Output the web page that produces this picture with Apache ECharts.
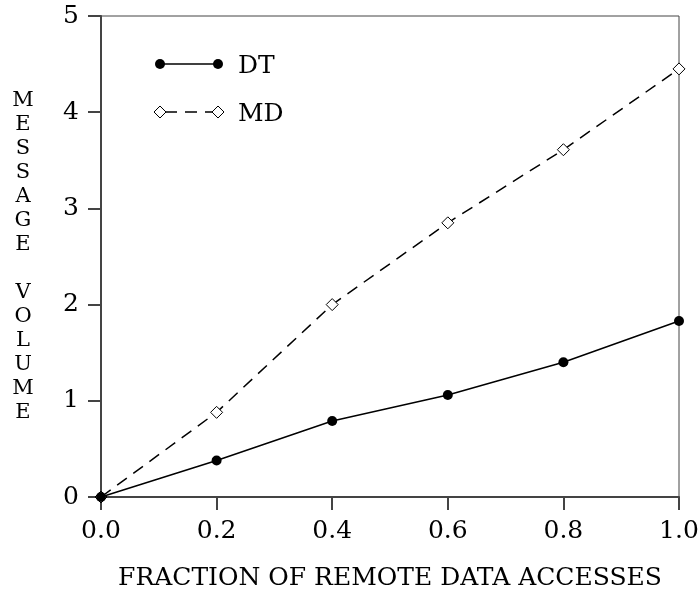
<!DOCTYPE html>
<html><head><meta charset="utf-8">
<script src="https://cdn.jsdelivr.net/npm/echarts@6/dist/echarts.min.js"></script>
<style>html,body{margin:0;padding:0;background:#fff}#c{width:699px;height:594px}</style>
</head><body><div id="c"></div>
<script>
const fractions = [0.0, 0.2, 0.4, 0.6, 0.8, 1.0];
const dtValues = [0, 0.38, 0.79, 1.06, 1.40, 1.83];
const mdValues = [0, 0.88, 2.00, 2.85, 3.61, 4.45];
const xTicks = ['0.0', '0.2', '0.4', '0.6', '0.8', '1.0'];
const yTicks = ['0', '1', '2', '3', '4', '5'];
const xTitle = 'FRACTION OF REMOTE DATA ACCESSES';
const yTitle = 'MESSAGE VOLUME';

const FONT = 'DejaVu Serif';
const chart = echarts.init(document.getElementById('c'), null, {renderer: 'canvas'});
const yName = yTitle.split(' ').map(w => w.split('').join('\n')).join('\n\n');

chart.setOption({
  animation: false,
  grid: {left: 101, right: 20, top: 16, bottom: 97, show: true, borderColor: '#444', borderWidth: 1,
         outerBoundsMode: 'none', containLabel: false},
  xAxis: {
    type: 'value', min: 0, max: 1, interval: 0.2,
    name: xTitle, nameLocation: 'middle', nameGap: 69,
    nameTextStyle: {fontFamily: FONT, fontSize: 25, color: '#000'},
    axisLine: {lineStyle: {color: '#444', width: 2}},
    axisTick: {show: true, inside: false, length: 13, lineStyle: {color: '#444', width: 2}},
    axisLabel: {margin: 22, fontFamily: FONT, fontSize: 25, color: '#000',
      formatter: v => xTicks[Math.round(v / 0.2)]},
    splitLine: {show: false}
  },
  yAxis: {
    type: 'value', min: 0, max: 5, interval: 1,
    name: yName, nameLocation: 'middle', nameRotate: 0, nameGap: 78,
    nameTextStyle: {fontFamily: FONT, fontSize: 21, lineHeight: 24, color: '#000', align: 'center', padding: [20, 0, 0, 0]},
    axisLine: {lineStyle: {color: '#444', width: 2}},
    axisTick: {show: true, inside: false, length: 13, lineStyle: {color: '#444', width: 2}},
    axisLabel: {margin: 22, fontFamily: FONT, fontSize: 25, color: '#000',
      formatter: v => yTicks[Math.round(v)]},
    splitLine: {show: false}
  },
  graphic: [
    {type: 'line', shape: {x1: 160, y1: 64, x2: 218, y2: 64}, style: {stroke: '#000', lineWidth: 1.5}},
    {type: 'circle', shape: {cx: 160, cy: 64, r: 5}, style: {fill: '#000'}},
    {type: 'circle', shape: {cx: 218, cy: 64, r: 5}, style: {fill: '#000'}},
    {type: 'text', x: 238, y: 66, style: {text: 'DT', fontFamily: FONT, fontSize: 25, fill: '#000', verticalAlign: 'middle'}},
    {type: 'line', shape: {x1: 165, y1: 112, x2: 213, y2: 112}, style: {stroke: '#000', lineWidth: 1.5, lineDash: [12, 8]}},
    {type: 'polygon', shape: {points: [[160, 106], [166, 112], [160, 118], [154, 112]]}, style: {fill: '#fff', stroke: '#000', lineWidth: 1}},
    {type: 'polygon', shape: {points: [[218, 106], [224, 112], [218, 118], [212, 112]]}, style: {fill: '#fff', stroke: '#000', lineWidth: 1}},
    {type: 'text', x: 238, y: 114, style: {text: 'MD', fontFamily: FONT, fontSize: 25, fill: '#000', verticalAlign: 'middle'}}
  ],
  series: [
    {
      name: 'MD', type: 'line', data: fractions.map((x, i) => [x, mdValues[i]]),
      symbol: 'diamond', symbolSize: 12,
      lineStyle: {color: '#000', width: 1.5, type: [12, 8]},
      itemStyle: {color: '#fff', borderColor: '#000', borderWidth: 1}, z: 3
    },
    {
      name: 'DT', type: 'line', data: fractions.map((x, i) => [x, dtValues[i]]),
      symbol: 'circle', symbolSize: 10,
      lineStyle: {color: '#000', width: 1.5},
      itemStyle: {color: '#000'}, z: 4
    }
  ]
});
</script></body></html>
